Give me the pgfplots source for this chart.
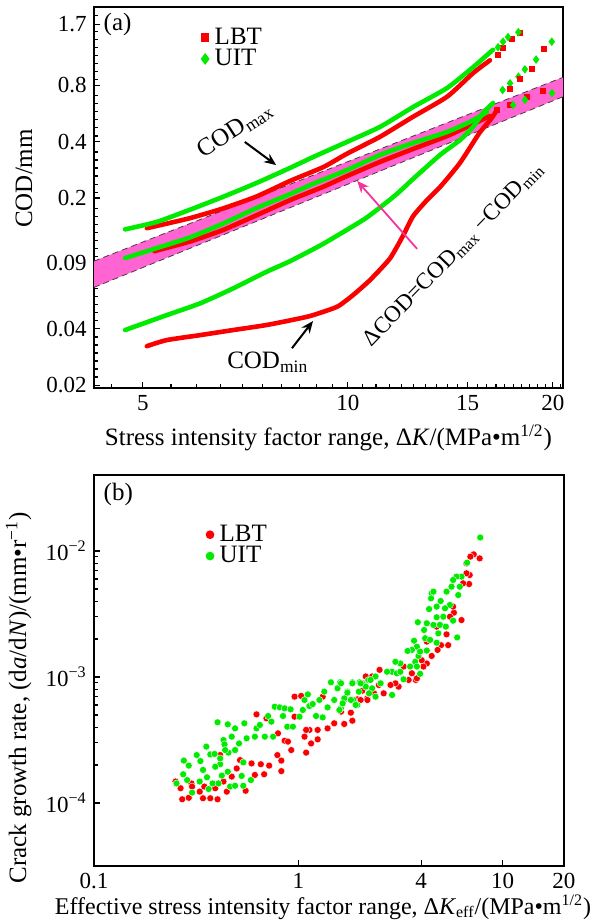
\documentclass[border=0pt]{standalone}
\usepackage{fontspec}
\setmainfont{Liberation Serif}
\usepackage{pgfplots}
\pgfplotsset{compat=1.18}
\usetikzlibrary{arrows.meta}
\definecolor{cred}{RGB}{250,0,0}
\definecolor{cgreen}{RGB}{0,235,0}
\definecolor{cband}{RGB}{255,100,210}
\definecolor{carrow}{RGB}{245,50,160}
\pgfplotsset{
  every tick label/.append style={font=\fontsize{11.5}{13}\selectfont},
  every axis label/.append style={font=\fontsize{12.5}{14}\selectfont},
  every axis/.append style={line width=0.7pt, tick style={line width=0.6pt, black},
    major tick length=3pt, minor tick length=1.8pt, tick pos=left, tick align=inside},
  curve/.style={line width=2.3pt, line cap=round, line join=round, smooth, tension=0.35, forget plot},
}
\begin{document}
\begin{tikzpicture}
\path[use as bounding box] (-47pt,-266pt) rectangle (250pt,194pt);
% ---------------- panel (a)
\begin{axis}[
  at={(0,0)}, anchor=south west, scale only axis,
  width=234.5pt, height=190.5pt,
  xmode=log, ymode=log,
  xmin=4.24, xmax=20.7, ymin=0.0193, ymax=2.1,
  xtick={5,10,15,20}, xticklabels={5,10,15,20},
  minor xtick={4.5,5.5,6,6.5,7,7.5,8,8.5,9,9.5,10.5,11,11.5,12,12.5,13,13.5,14,14.5,15.5,16,16.5,17,17.5,18,18.5,19,19.5,20.5},
  ytick={0.02,0.04,0.09,0.2,0.4,0.8,1.7},
  yticklabels={0.02,0.04,0.09,0.2,0.4,0.8,1.7},
  minor ytick={0.0221,0.0244,0.0269,0.0297,0.0328,0.0362,0.0441,0.0487,0.0538,0.0594,0.0656,0.0724,0.0799,0.0974,0.1075,0.1187,0.1311,0.1447,0.1597,0.1764,0.2150,0.2373,0.2620,0.2893,0.3193,0.3526,0.4297,0.4744,0.5238,0.5782,0.6384,0.7048,0.8590,0.9484,1.047,1.156,1.276,1.409,1.555,1.896},
  xlabel={Stress intensity factor range, Δ\textit{K}/(MPa•m\textsuperscript{1/2})},
  ylabel={COD/mm},
  every axis y label/.append style={at={(ticklabel cs:0.55)}},
  legend style={at={(0.215,0.968)}, anchor=north west, draw=none, fill=none,
    font=\fontsize{12.5}{14}\selectfont, row sep=-3pt,
    nodes={inner xsep=3pt}},
  legend cell align=left,
]
\addlegendimage{only marks, mark=square*, mark size=1.8pt, cred}
\addlegendentry{LBT}
\addlegendimage{only marks, mark=diamond*, mark size=2.4pt, cgreen}
\addlegendentry{UIT}
% band
\addplot[fill=cband, draw=none, forget plot] coordinates {(4.24,0.092) (20.7,0.884) (20.7,0.696) (4.24,0.0666)} -- cycle;
\addplot[densely dashed, black!75, line width=0.4pt, forget plot] coordinates {(4.24,0.092) (20.7,0.884)};
\addplot[densely dashed, black!75, line width=0.4pt, forget plot] coordinates {(4.24,0.0666) (20.7,0.696)};
% LBT COD_max
\addplot[cred, curve] coordinates {
(5.07,0.138) (5.86,0.156) (6.56,0.176) (7.35,0.204) (8.23,0.247) (9.21,0.293) (9.97,0.345)
(11.15,0.425) (12.47,0.544) (13.99,0.696) (15.27,0.930) (16.17,1.09)};
\addplot[only marks, mark=square*, mark size=1.2pt, cred, forget plot] coordinates {
(16.62,1.16) (16.9,1.27) (17.43,1.42) (17.9,1.53)};
% UIT COD_max
\addplot[cgreen, curve] coordinates {
(4.71,0.136) (5.24,0.149) (5.86,0.173) (6.56,0.203) (7.35,0.241) (8.23,0.290) (8.89,0.331)
(9.97,0.399) (11.15,0.48) (12.47,0.613) (13.99,0.775) (15.27,1.00) (16.0,1.16) (16.34,1.24)};
\addplot[only marks, mark=diamond*, mark size=1.6pt, cgreen, forget plot] coordinates {
(16.62,1.28) (16.9,1.37) (17.19,1.45) (17.8,1.54)};
% LBT Delta COD
\addplot[cred, curve] coordinates {
(5.2,0.104) (5.86,0.117) (6.56,0.135) (7.35,0.162) (8.23,0.195) (9.21,0.230) (9.97,0.262)
(11.15,0.312) (12.47,0.366) (13.99,0.429) (15.27,0.497) (16.17,0.549)};
\addplot[only marks, mark=square*, mark size=1.2pt, cred, forget plot] coordinates {
(16.56,0.591) (17.31,0.628) (18.33,0.693) (19.35,0.746)};
% UIT Delta COD
\addplot[cgreen, curve] coordinates {
(4.71,0.0955) (5.24,0.108) (5.86,0.123) (6.56,0.146) (7.35,0.177) (8.23,0.210) (8.89,0.238)
(9.97,0.282) (11.15,0.340) (12.47,0.394) (13.99,0.451) (15.27,0.52) (16.0,0.577)};
\addplot[only marks, mark=diamond*, mark size=1.6pt, cgreen, forget plot] coordinates {
(17.49,0.628) (18.2,0.669) (19.95,0.728)};
% UIT COD_min
\addplot[cgreen, curve] coordinates {
(4.71,0.0394) (5.42,0.0473) (6.07,0.0547) (6.79,0.0658) (7.6,0.0807) (8.23,0.092) (9.21,0.114)
(10.54,0.153) (11.15,0.178) (11.8,0.210) (12.47,0.253) (13.66,0.340) (14.61,0.408) (15.27,0.48)
(15.8,0.57) (16.34,0.644)};
\addplot[only marks, mark=diamond*, mark size=1.6pt, cgreen, forget plot] coordinates {
(16.88,0.756) (17.31,0.821) (17.81,0.891) (18.2,0.975) (18.9,1.10) (19.93,1.37)};
% LBT COD_min
\addplot[cred, curve] coordinates {
(5.07,0.0323) (5.42,0.0348) (6.07,0.037) (6.79,0.0394) (7.6,0.0419) (8.51,0.0455) (8.89,0.0473)
(9.65,0.0525) (10.18,0.0606) (10.78,0.0729) (11.53,0.095) (12.07,0.127) (12.47,0.160) (13.07,0.195)
(13.66,0.229) (14.61,0.308) (15.6,0.445) (16.17,0.52) (16.56,0.591)};
\addplot[only marks, mark=square*, mark size=1.2pt, cred, forget plot] coordinates {
(17.31,0.763) (17.9,0.862) (18.62,0.975) (19.4,1.25)};
% annotations
\node[anchor=west, font=\fontsize{12.5}{14}\selectfont] at (rel axis cs:0.005,0.953) {(a)};
\node[rotate=33, font=\fontsize{12.5}{14}\selectfont] at (axis cs:6.83,0.462) {COD\textsubscript{max}};
\draw[-{Stealth[length=6pt,width=5pt]}, line width=1pt] (axis cs:7.06,0.399) -- (axis cs:7.85,0.300);
\node[font=\fontsize{12.5}{14}\selectfont] at (axis cs:7.63,0.0265) {COD\textsubscript{min}};
\draw[-{Stealth[length=6pt,width=5pt]}, line width=1pt] (axis cs:8.28,0.0315) -- (axis cs:8.89,0.044);
\node[rotate=46, font=\fontsize{11.5}{13}\selectfont, inner sep=0pt] at (axis cs:14.3,0.100) {ΔCOD=COD\textsubscript{max} −COD\textsubscript{min}};
\draw[-{Stealth[length=6pt,width=5pt]}, line width=0.9pt, carrow] (axis cs:12.64,0.107) -- (axis cs:10.32,0.247);
\end{axis}
% ---------------- panel (b)
\begin{axis}[
  at={(0,-239pt)}, anchor=south west, scale only axis,
  width=235pt, height=195.5pt,
  xmode=log, ymode=log,
  xmin=0.1, xmax=20, ymin=3.16e-5, ymax=0.0401,
  xtick={0.1,1,4,10,20}, xticklabels={0.1,1,4,10,20},
  ytick={1e-4,1e-3,1e-2},
  yticklabels={10\textsuperscript{−4},10\textsuperscript{−3},10\textsuperscript{−2}},
  xlabel={Effective stress intensity factor range, Δ\textit{K}\textsubscript{eff}/(MPa•m\textsuperscript{1/2})},
  ylabel={Crack growth rate, (d\textit{a}/d\textit{N})/(mm•r\textsuperscript{−1})},
  every axis x label/.append style={font=\fontsize{12}{13}\selectfont, yshift=4pt, xshift=-3pt},
  every axis y label/.append style={at={(ticklabel cs:0.43)}},
  legend style={at={(0.225,0.82)}, anchor=west, draw=none, fill=none,
    font=\fontsize{12.5}{14}\selectfont, row sep=-3pt, nodes={inner xsep=3pt}},
  legend cell align=left,
]
\addlegendimage{only marks, mark=*, mark size=1.8pt, cred}
\addlegendentry{LBT}
\addlegendimage{only marks, mark=*, mark size=1.8pt, cgreen}
\addlegendentry{UIT}
\addplot[only marks, mark=*, mark size=1.75pt, mark options={draw=white, line width=0.2pt, fill=cred}, forget plot] table {
0.2703 1.07e-4
0.2911 1.10e-4
0.3418 1.09e-4
0.3710 1.09e-4
0.4026 1.07e-4
0.2653 1.31e-4
0.2999 1.43e-4
0.3293 1.23e-4
0.3469 1.35e-4
0.3924 1.31e-4
0.4147 2.40e-4
0.4305 1.48e-4
0.4468 1.23e-4
0.4997 1.88e-4
0.5526 1.25e-4
0.5909 2.06e-4
0.6132 1.67e-4
0.6247 5.05e-4
0.6559 2.03e-4
0.6808 1.69e-4
0.6989 4.70e-4
0.7203 1.98e-4
0.7904 2.40e-4
0.8265 2.17e-4
0.8265 1.79e-4
0.8579 3.12e-4
0.8906 3.07e-4
0.9241 2.63e-4
0.9592 6.98e-4
1.0335 7.07e-4
1.073 3.36e-4
1.093 2.51e-4
1.134 3.80e-4
1.156 2.97e-4
1.245 3.80e-4
1.245 3.20e-4
1.392 3.91e-4
1.500 4.29e-4
1.677 4.23e-4
1.841 4.50e-4
1.947 6.65e-4
2.058 7.79e-4
2.177 6.77e-4
1.093 3.80e-4
0.2508 1.48e-4
0.3021 1.35e-4
0.4725 1.62e-4
0.5187 2.19e-4
0.796 3.57e-4
0.9592 4.84e-4
1.317 6.98e-4
7.73 8.74e-3
7.23 9.41e-3
6.96 9.02e-3
6.91 6.45e-3
6.86 5.47e-3
6.66 7.98e-3
6.30 2.83e-3
5.78 3.24e-3
5.53 3.01e-3
5.32 2.18e-3
5.42 1.79e-3
5.00 1.79e-3
4.81 1.64e-3
4.50 1.47e-3
4.26 1.28e-3
4.02 1.36e-3
3.60 1.07e-3
3.76 9.47e-4
3.47 9.47e-4
3.10 8.38e-4
2.99 8.91e-4
2.62 7.42e-4
2.50 1.14e-3
2.30 1.01e-3
2.14 1.01e-3
2.06 8.91e-4
2.35 7.42e-4
2.18 6.57e-4
2.02 6.57e-4
1.81 5.21e-4
1.84 4.50e-4
1.68 4.24e-4
1.62 5.31e-4
2.48 8.64e-4
2.83 8.64e-4
3.28 1.21e-3
4.10 1.21e-3
3.81 9.76e-4
5.73 3.62e-3
4.76 2.51e-3
4.26 1.91e-3
6.41 5.54e-3
6.66 6.65e-3
};
\addplot[only marks, mark=*, mark size=1.75pt, mark options={draw=white, line width=0.2pt, fill=cgreen}, forget plot] table {
0.4026 4.37e-4
0.4519 4.21e-4
0.4906 3.91e-4
0.5445 4.29e-4
0.2753 2.17e-4
0.2911 1.98e-4
0.3184 2.40e-4
0.3318 2.15e-4
0.3548 2.80e-4
0.3710 2.43e-4
0.3894 2.45e-4
0.4147 2.03e-4
0.4305 3.16e-4
0.4354 2.92e-4
0.4552 2.51e-4
0.4725 3.36e-4
0.4906 2.63e-4
0.5130 2.97e-4
0.5383 2.10e-4
0.5588 3.26e-4
0.5864 1.52e-4
0.6132 3.36e-4
0.6247 3.91e-4
0.6486 4.16e-4
0.6859 3.36e-4
0.7120 4.90e-4
0.7389 4.42e-4
0.7528 3.36e-4
0.7670 5.81e-4
0.8113 5.74e-4
0.8421 4.90e-4
0.8579 5.64e-4
0.8836 4.03e-4
0.9173 5.54e-4
0.9415 4.03e-4
1.0144 4.84e-4
1.053 5.47e-4
1.073 6.57e-4
1.114 7.28e-4
1.134 5.88e-4
1.177 6.10e-4
1.222 4.90e-4
1.269 6.57e-4
1.317 4.78e-4
1.341 7.65e-4
1.392 5.74e-4
1.445 9.07e-4
1.500 6.57e-4
1.557 8.13e-4
1.604 9.07e-4
1.616 5.64e-4
1.677 6.57e-4
1.741 7.65e-4
1.841 9.07e-4
1.862 6.57e-4
1.947 5.99e-4
1.998 9.07e-4
2.097 8.64e-4
2.202 9.46e-4
0.2536 1.43e-4
0.2733 1.69e-4
0.2858 1.52e-4
0.3021 1.21e-4
0.3293 1.48e-4
0.3574 1.60e-4
0.3641 1.29e-4
0.3807 1.43e-4
0.4071 1.43e-4
0.4225 1.65e-4
0.4519 1.77e-4
0.4638 1.35e-4
0.4906 1.37e-4
0.5284 1.64e-4
0.5383 1.37e-4
0.4147 2.26e-4
0.4386 2.63e-4
0.3924 1.94e-4
0.3418 1.83e-4
7.78 1.28e-2
6.71 8.08e-3
6.30 6.26e-3
5.95 6.26e-3
5.73 5.89e-3
5.63 5.21e-3
6.18 5.21e-3
5.32 4.76e-3
6.07 4.47e-3
4.50 4.61e-3
4.59 4.76e-3
4.47 4.21e-3
4.98 4.01e-3
5.53 3.73e-3
5.23 3.51e-3
4.76 3.62e-3
4.37 3.46e-3
5.13 3.01e-3
4.76 2.98e-3
5.73 2.80e-3
3.85 2.72e-3
4.26 2.67e-3
4.59 2.59e-3
4.13 2.36e-3
4.94 2.59e-3
5.28 2.51e-3
4.18 2.03e-3
4.42 1.97e-3
4.85 2.22e-3
6.00 2.06e-3
4.76 1.87e-3
3.69 1.94e-3
3.81 1.74e-3
3.60 1.64e-3
3.43 1.61e-3
4.26 1.62e-3
3.88 1.47e-3
3.74 1.32e-3
3.53 1.21e-3
3.16 1.28e-3
2.99 1.32e-3
2.88 1.10e-3
3.04 1.07e-3
2.72 1.10e-3
2.53 8.91e-4
2.39 1.01e-3
2.26 9.47e-4
2.14 8.38e-4
2.30 8.13e-4
2.02 8.91e-4
1.84 8.91e-4
1.98 7.65e-4
1.74 7.51e-4
1.62 8.91e-4
1.68 6.77e-4
1.81 6.57e-4
1.91 6.00e-4
1.65 6.18e-4
1.59 5.47e-4
2.39 6.98e-4
2.22 7.42e-4
2.88 7.20e-4
3.28 9.58e-4
3.95 1.06e-3
3.16 1.10e-3
3.81 1.21e-3
3.95 1.59e-3
};
\node[anchor=west, font=\fontsize{12.5}{14}\selectfont] at (rel axis cs:0.005,0.95) {(b)};
\end{axis}
\end{tikzpicture}
\end{document}
